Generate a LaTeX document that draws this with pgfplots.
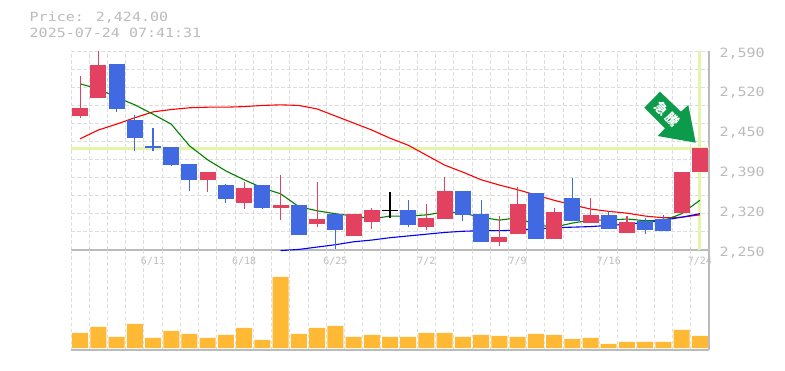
\documentclass[border=0pt]{standalone}
\usepackage{fontspec}
\usepackage{pgfplots}
\usepackage{pgfplotstable}
\pgfplotsset{compat=1.18}
\setmainfont{DejaVu Sans Mono}
\newfontfamily\cjk{Noto Sans CJK JP}
\definecolor{txt}{HTML}{BBBBBB}
\definecolor{gridc}{HTML}{DDDDDD}
\definecolor{up}{HTML}{E2425F}
\definecolor{down}{HTML}{4169E1}
\definecolor{hl}{HTML}{E3F5A9}
\definecolor{vol}{HTML}{FFB935}
\definecolor{arrowc}{HTML}{0B9B4A}
\pgfplotstableread{
i top bot high low
0 2493 2479 2547 2476
1 2566 2510 2590 2510
7 2383 2370 2383 2349
9 2356 2330 2366 2320
11 2327 2322 2378 2301
13 2303 2294 2366 2289
15 2311 2274 2311 2274
16 2318 2298 2322 2286
19 2305 2289 2329 2284
20 2351 2303 2375 2303
23 2272 2264 2308 2257
24 2329 2277 2358 2277
26 2315 2269 2322 2269
28 2310 2296 2339 2296
30 2298 2279 2308 2279
33 2383 2313 2383 2313
34 2424 2383 2424 2383
}\upcandles
\pgfplotstableread{
i top bot high low
2 2568 2491 2568 2486
3 2472 2442 2481 2420
4 2428 2424 2458 2420
5 2426 2395 2426 2393
6 2397 2370 2397 2351
8 2361 2337 2363 2330
10 2361 2322 2361 2320
12 2327 2276 2327 2276
14 2311 2284 2311 2252
18 2318 2293 2335 2289
21 2351 2310 2351 2300
22 2311 2264 2335 2264
25 2347 2269 2347 2269
27 2339 2300 2373 2300
29 2310 2286 2317 2286
31 2300 2284 2305 2277
32 2303 2283 2310 2283
}\downcandles
\pgfplotstableread{
i top bot high low
17 2318 2316 2349 2305
}\flatcandles
\pgfplotstableread{
i v
0 2534
1 2525
2 2511
3 2498
4 2482
5 2465
6 2428
7 2404
8 2385
9 2370
10 2356
11 2346
12 2324
13 2317
14 2312
15 2308
16 2303
17 2308
18 2308
19 2310
20 2315
21 2313
22 2306
23 2301
24 2305
25 2293
26 2289
27 2296
28 2301
29 2301
30 2303
31 2300
32 2300
33 2312
34 2335
}\magreen
\pgfplotstableread{
i v
0 2440
1 2455
2 2465
3 2476
4 2486
5 2490
6 2493
7 2494
8 2494
9 2495
10 2497
11 2498
12 2497
13 2491
14 2479
15 2467
16 2455
17 2441
18 2429
19 2412
20 2395
21 2383
22 2370
23 2361
24 2353
25 2344
26 2335
27 2327
28 2320
29 2316
30 2313
31 2308
32 2305
33 2306
34 2310
}\mared
\pgfplotstableread{
i v
11 2249
12 2251
13 2255
14 2259
15 2264
16 2267
17 2271
18 2274
19 2277
20 2280
21 2282
22 2283
23 2283
24 2284
25 2286
26 2288
27 2289
28 2290
29 2292
30 2294
31 2297
32 2301
33 2306
34 2312
}\mablue
\pgfplotstableread{
i v
0 15
1 21
2 11
3 24
4 10
5 17
6 14
7 10
8 13
9 20
10 8
11 71
12 14
13 20
14 22
15 11
16 13
17 11
18 11
19 15
20 15
21 11
22 13
23 12
24 11
25 14
26 13
27 9
28 10
29 4
30 6
31 6
32 6
33 18
34 12
}\volumes
\pgfplotsset{
  panel/.style={
    scale only axis, width=638pt, anchor=south west,
    xmin=-0.5, xmax=34.5,
    axis x line*=bottom, axis y line*=right,
    axis line style={-,draw=txt,line width=1.4pt},
    xtick={-0.5,0.5,...,34.5}, xticklabels={},
    major tick length=0pt, minor tick length=0pt,
    xmajorgrids,
    grid style={draw=gridc,line width=0.9pt,dash pattern=on 3.5pt off 2.5pt},
    tick label style={text=txt},
  },
  candle/.style={forget plot, draw=none, mark=none,
    error bars/.cd, y dir=both, y explicit, error mark=none,
    error bar style={#1}},
}
\begin{document}
\begin{tikzpicture}[x=1pt,y=1pt]
\useasboundingbox (0,0) rectangle (785,370);
\begin{axis}[panel, at={(71pt,120pt)}, height=199pt,
    ymin=2250, ymax=2590, clip=false, ymajorgrids,
    ytick={2250,2280.9,2311.8,2342.7,2373.6,2404.5,2435.5,2466.4,2497.3,2528.2,2559.1,2590},
    yticklabels={},
    extra y ticks={2590,2522,2454,2386,2318,2250},
    extra y tick labels={{2,590},{2,520},{2,450},{2,390},{2,320},{2,250}},
    extra x ticks={4,9,14,19,24,29,34},
    extra x tick labels={6/11,6/18,6/25,7/2,7/9,7/16,7/24},
    extra tick style={grid=none},
    yticklabel style={font=\fontsize{15}{15}\selectfont, anchor=west, xshift=7pt, yshift=-2.3pt, yscale=0.85},
    xticklabel style={font=\fontsize{10}{10}\selectfont, anchor=center, yshift=-11pt},
  ]
  \addplot[hl, line width=3pt, forget plot] coordinates {(-0.5,2424) (34.5,2424)};
  \addplot[hl, line width=3pt, forget plot] coordinates {(34,2250) (34,2590)};
  \addplot[red, line width=1.1pt] table[x=i,y=v] {\mared};
  \addplot[green!50!black, line width=1.1pt] table[x=i,y=v] {\magreen};
  \addplot[blue, line width=1.1pt] table[x=i,y=v] {\mablue};
  % wicks
  \addplot[candle={up,line width=1.1pt}] table[x=i,y=top,y error plus expr=\thisrow{high}-\thisrow{top},y error minus expr=\thisrow{top}-\thisrow{low}] {\upcandles};
  \addplot[candle={down,line width=1.1pt}] table[x=i,y=top,y error plus expr=\thisrow{high}-\thisrow{top},y error minus expr=\thisrow{top}-\thisrow{low}] {\downcandles};
  \addplot[candle={black,line width=1.1pt}] table[x=i,y=top,y error plus expr=\thisrow{high}-\thisrow{top},y error minus expr=\thisrow{top}-\thisrow{low}] {\flatcandles};
  % bodies
  \addplot[candle={up,line width=16pt}] table[x=i,y=top,y error plus expr=0,y error minus expr=\thisrow{top}-\thisrow{bot}] {\upcandles};
  \addplot[candle={down,line width=16pt}] table[x=i,y=top,y error plus expr=0,y error minus expr=\thisrow{top}-\thisrow{bot}] {\downcandles};
  \addplot[candle={black,line width=16pt}] table[x=i,y=top,y error plus expr=0,y error minus expr=\thisrow{top}-\thisrow{bot}] {\flatcandles};
\end{axis}
\begin{axis}[panel, at={(71pt,20pt)}, height=100pt,
    ymin=-2, ymax=98, ytick=\empty]
  \addplot[ybar, bar width=16pt, fill=vol, draw=none] table[x=i,y=v] {\volumes};
\end{axis}
\node[anchor=west, text=txt, font=\fontsize{15}{15}\selectfont, inner sep=0pt, yscale=0.85] at (29.5,352) {Price: 2,424.00};
\node[anchor=west, text=txt, font=\fontsize{15}{15}\selectfont, inner sep=0pt, yscale=0.85] at (29.5,337) {2025-07-24 07:41:31};
% annotation arrow
\fill[arrowc] (660,278.3) -- (681,258.3) -- (688.3,265) -- (695.7,227.3) -- (657.7,234) -- (665,241.7) -- (644.3,262.3) -- cycle;
\node[rotate=-45, text=white, font=\cjk\bfseries\fontsize{13}{13}\selectfont, inner sep=0pt] at (661.7,261.7) {急};
\node[rotate=-45, text=white, font=\cjk\bfseries\fontsize{13}{13}\selectfont, inner sep=0pt] at (672.3,250) {騰};
\end{tikzpicture}
\end{document}
